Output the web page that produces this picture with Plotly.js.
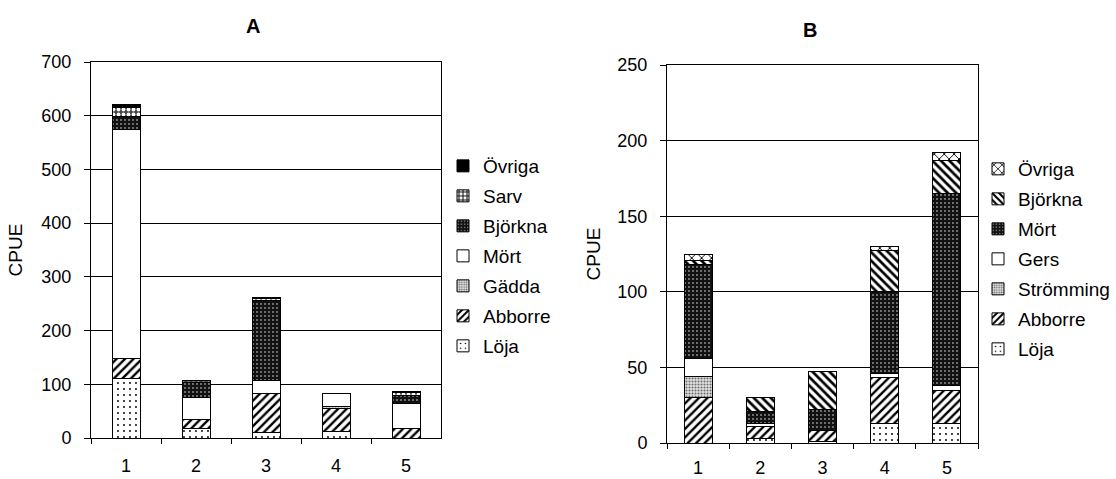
<!DOCTYPE html>
<html>
<head>
<meta charset="utf-8">
<script src="https://cdn.plot.ly/plotly-3.0.1.min.js"></script>
<style>html,body{margin:0;padding:0;background:#fff;}#chart{width:1116px;height:479px;}</style>
</head>
<body>
<div id="chart"></div>
<script>
// ---- Data ----
const categories = ["1", "2", "3", "4", "5"];

// Panel A
const titleA = "A";
const lojaA    = [110, 18, 10, 12, 0];
const abborreA = [38, 16, 72, 42, 18];
const gaddaA   = [0, 0, 0, 4, 0];
const mortA    = [427, 42, 25, 25, 46];
const bjorknaA = [23, 28, 149, 0, 16];
const sarvA    = [17, 3, 4, 0, 5];
const ovrigaA  = [5, 0, 2, 0, 1];

// Panel B
const titleB = "B";
const lojaB      = [0, 3, 1, 13, 13];
const abborreB   = [30, 8, 7, 30, 22];
const stromningB = [14, 0, 0, 0, 0];
const gersB      = [12, 2, 0, 3, 3];
const mortB      = [62, 8, 14, 54, 127];
const bjorknaB   = [3, 9, 25, 27, 22];
const ovrigaB    = [4, 0, 0, 3, 5];

const yTitle = "CPUE";

// ---- Styles ----
const FONT = "Liberation Sans, Arial, sans-serif";
const P = {
  dots:     {shape: ".", bgcolor: "#ffffff", fgcolor: "#000000", size: 6, solidity: 0.08},
  fwd:      {shape: "/", bgcolor: "#ffffff", fgcolor: "#000000", size: 6, solidity: 0.4},
  back:     {shape: "\\", bgcolor: "#ffffff", fgcolor: "#000000", size: 6, solidity: 0.45},
  grey:     {shape: ".", bgcolor: "#e4e4e4", fgcolor: "#6a6a6a", size: 3, solidity: 0.4},
  darkdots: {shape: ".", bgcolor: "#111111", fgcolor: "#ffffff", size: 4, solidity: 0.1},
  sarv:     {shape: ".", bgcolor: "#444444", fgcolor: "#ffffff", size: 5, solidity: 0.45},
  cross:    {shape: "x", bgcolor: "#ffffff", fgcolor: "#000000", size: 7, solidity: 0.25}
};

function bar(name, vals, fill, pattern, panel, width, rank) {
  const t = {
    type: "bar", name: name, x: categories, y: vals,
    width: width,
    marker: {color: fill, line: {color: "#000", width: 1}},
    legendgroup: panel + name,
    legendrank: rank,
    xaxis: panel === "A" ? "x" : "x2",
    yaxis: panel === "A" ? "y" : "y2",
    legend: panel === "A" ? "legend" : "legend2",
    hoverinfo: "name+y"
  };
  if (pattern) t.marker.pattern = pattern;
  return t;
}

const wA = 0.4, wB = 0.45;
const data = [
  bar("Löja", lojaA, "#fff", P.dots, "A", wA, 7),
  bar("Abborre", abborreA, "#fff", P.fwd, "A", wA, 6),
  bar("Gädda", gaddaA, "#ccc", P.grey, "A", wA, 5),
  bar("Mört", mortA, "#fff", null, "A", wA, 4),
  bar("Björkna", bjorknaA, "#111", P.darkdots, "A", wA, 3),
  bar("Sarv", sarvA, "#888", P.sarv, "A", wA, 2),
  bar("Övriga", ovrigaA, "#000", null, "A", wA, 1),

  bar("Löja", lojaB, "#fff", P.dots, "B", wB, 7),
  bar("Abborre", abborreB, "#fff", P.fwd, "B", wB, 6),
  bar("Strömming", stromningB, "#ccc", P.grey, "B", wB, 5),
  bar("Gers", gersB, "#fff", null, "B", wB, 4),
  bar("Mört", mortB, "#111", P.darkdots, "B", wB, 3),
  bar("Björkna", bjorknaB, "#fff", P.back, "B", wB, 2),
  bar("Övriga", ovrigaB, "#fff", P.cross, "B", wB, 1)
];

const W = 1116, H = 479;
const px = v => v / W, py = v => 1 - v / H;

const tickFont = {family: FONT, size: 18, color: "#000"};

function xax(x0, x1, standoff) {
  return {
    domain: [px(x0), px(x1)], type: "category",
    showline: true, linecolor: "#000", linewidth: 1, mirror: true,
    ticks: "outside", ticklen: 5, tickcolor: "#000", tickson: "boundaries",
    ticklabelstandoff: standoff,
    showgrid: false, zeroline: false, tickfont: tickFont, fixedrange: true
  };
}
function yax(y0, y1, max, dtick, anchor, standoff) {
  return {
    domain: [py(y1), py(y0)], range: [0, max], dtick: dtick, anchor: anchor,
    showline: true, linecolor: "#000", linewidth: 1, mirror: true,
    ticks: "outside", ticklen: 6, tickcolor: "#000",
    ticklabelstandoff: 9,
    showgrid: true, gridcolor: "#000", gridwidth: 1, zeroline: false,
    tickfont: tickFont,
    title: {text: yTitle, font: {family: FONT, size: 19, color: "#000"}, standoff: standoff},
    fixedrange: true
  };
}

const legendCommon = {
  font: {family: FONT, size: 19, color: "#000"},
  traceorder: "grouped", tracegroupgap: 2.3,
  bgcolor: "rgba(0,0,0,0)", borderwidth: 0,
  xanchor: "left", yanchor: "top", itemwidth: 30
};

const layout = {
  width: W, height: H,
  margin: {l: 0, r: 0, t: 0, b: 0},
  paper_bgcolor: "#fff", plot_bgcolor: "#fff",
  barmode: "stack",
  font: {family: FONT, color: "#000"},
  xaxis: Object.assign(xax(91, 441, 11), {anchor: "y"}),
  yaxis: yax(62, 438, 700, 100, "x", 13),
  xaxis2: Object.assign(xax(667, 978, 8), {anchor: "y2"}),
  yaxis2: yax(65, 443, 250, 50, "x2", 11),
  legend: Object.assign({}, legendCommon, {x: px(443), y: py(147)}),
  legend2: Object.assign({}, legendCommon, {x: px(978), y: py(150)}),
  annotations: [
    {text: "<b>" + titleA + "</b>", xref: "paper", yref: "paper", x: px(253), y: py(26),
     xanchor: "center", yanchor: "middle", showarrow: false, font: {family: FONT, size: 20, color: "#000"}},
    {text: "<b>" + titleB + "</b>", xref: "paper", yref: "paper", x: px(810), y: py(30),
     xanchor: "center", yanchor: "middle", showarrow: false, font: {family: FONT, size: 20, color: "#000"}}
  ],
  showlegend: true
};

Plotly.newPlot("chart", data, layout, {displayModeBar: false, staticPlot: true});
</script>
</body>
</html>
